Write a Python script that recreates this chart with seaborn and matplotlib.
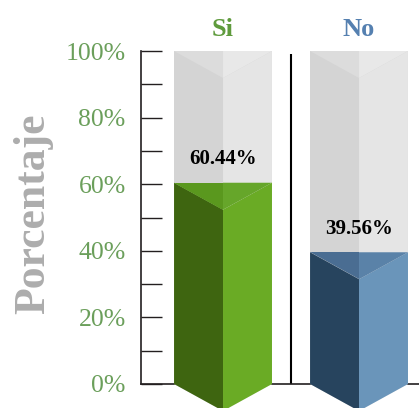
import numpy as np
import pandas as pd
import matplotlib.pyplot as plt
import seaborn as sns

categorias = ['Si', 'No']
porcentajes = [60.44, 39.56]
fondo = [100, 100]
yticks = list(range(0, 101, 10))
ytick_labels = [f'{t}%' if t % 20 == 0 else '' for t in yticks]

# colores de cada prisma (cara izq, cara der, tapa izq, tapa der)
colores = {
    'Si': ['#3e6510', '#6aab25', '#5a981e', '#66a62a'],
    'No': ['#27445e', '#6a95ba', '#4a6d92', '#5a82a8'],
}
gris = ['#d4d4d4', '#e5e5e5', '#dcdcdc', '#e8e8e8']
color_cat = {'Si': '#5f9b3d', 'No': '#5580b0'}
verde_ticks = '#6b9f5b'

ancho = 0.72
prof = 8.1  # profundidad de la "V" en unidades de %

sns.set_theme(style='white')
plt.rcParams['font.family'] = ['Liberation Serif', 'DejaVu Serif']

fig = plt.figure(figsize=(4.19, 4.08), dpi=100)
ax = fig.add_axes([141 / 419, 24 / 408, 278 / 419, 333 / 408])

df = pd.DataFrame({'cat': categorias, 'fondo': fondo, 'pct': porcentajes})
sns.barplot(data=df, x='cat', y='fondo', color=gris[0], width=ancho,
            saturation=1, linewidth=0, ax=ax, zorder=1)


def prisma(x, h, c, z):
    l, r = x - ancho / 2, x + ancho / 2
    kw = dict(lw=0, zorder=z, clip_on=False)
    ax.fill([l, x, x, l], [h, h - prof, -prof, 0], color=c[0], **kw)
    ax.fill([x, r, r, x], [h - prof, h, 0, -prof], color=c[1], **kw)
    ax.fill([l, x, x], [h, h, h - prof], color=c[2], **kw)
    ax.fill([x, r, x], [h, h, h - prof], color=c[3], **kw)


for i, cat in enumerate(categorias):
    prisma(i, fondo[i], gris, 3)
    prisma(i, porcentajes[i], colores[cat], 4)
    ax.text(i, porcentajes[i] + 7.0, f'{porcentajes[i]:.2f}%', ha='center',
            va='center', fontsize=15, fontweight='bold', color='black', zorder=6)

ax.vlines(0.5, 0, 99, color='black', lw=1.5, zorder=2)

ax.set_xlim(-0.603, 1.441)
ax.set_ylim(0, 100)
ax.set_yticks(yticks)
ax.set_yticklabels(ytick_labels)
ax.tick_params(axis='y', direction='in', length=15, width=1, color='#231f20',
               pad=11, labelsize=18.5, labelcolor=verde_ticks, left=True)

ax.xaxis.tick_top()
ax.set_xticks([0, 1])
ax.set_xticklabels(categorias, fontsize=19, fontweight='bold')
for lab in ax.get_xticklabels():
    lab.set_color(color_cat[lab.get_text()])
ax.tick_params(axis='x', length=0, pad=7)

ax.set_xlabel('')
ax.set_ylabel('')
for s in ['top', 'right']:
    ax.spines[s].set_visible(False)
for s in ['left', 'bottom']:
    ax.spines[s].set_color('#231f20')
    ax.spines[s].set_linewidth(1.2)

fig.text(33 / 419, 1 - 214 / 408, 'Porcentaje', rotation=90, ha='center',
         va='center', fontsize=31.5, fontweight='bold', color='#adadad')

fig.savefig('out.png', dpi=100, facecolor='white')
